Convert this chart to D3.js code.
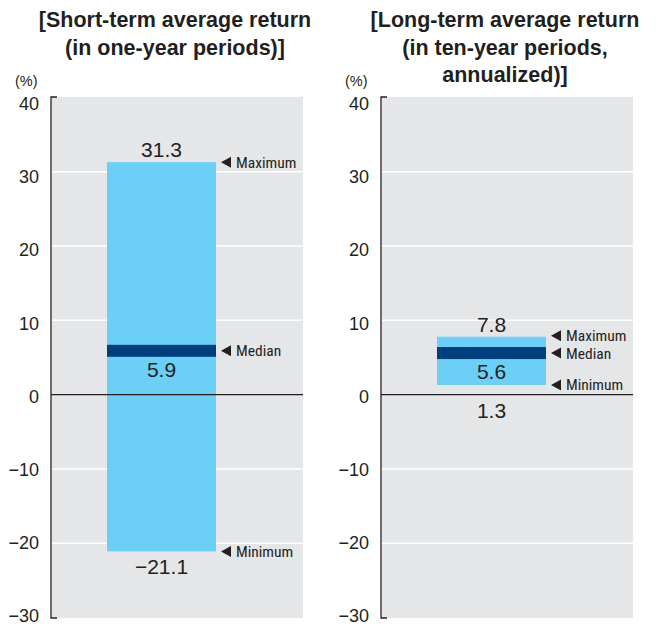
<!DOCTYPE html>
<html><head><meta charset="utf-8">
<script src="https://cdn.jsdelivr.net/npm/d3@7"></script>
<style>
body{margin:0;background:#fff;}
svg{display:block;}
</style></head>
<body>
<svg id="chart" width="658" height="624"></svg>
<script>
const panels = ["short", "long"];
const titles = [
  ["[Short-term average return", "(in one-year periods)]"],
  ["[Long-term average return", "(in ten-year periods,", "annualized)]"]
];
const maxValues = [31.3, 7.8];
const medianValues = [5.9, 5.6];
const minValues = [-21.1, 1.3];
const tickValues = [40, 30, 20, 10, 0, -10, -20, -30];
const annotationLabels = ["Maximum", "Median", "Minimum"];

const svg = d3.select("#chart");
const fontMain = "Helvetica, Arial, 'Liberation Sans', sans-serif";
const fontNarrow = "'Liberation Sans Narrow', 'Arial Narrow', 'Roboto Condensed', Arial, sans-serif";

const y = d3.scaleLinear().domain([-30, 40]).range([617.5, 97.5]);
// tick labels in the reference sit on a slightly tighter spacing than the gridlines
const yLabel = d3.scaleLinear().domain([-30, 40]).range([615.7, 104]);

const layout = [
  {axisX: 51, plotRight: 303, barX0: 107, barX1: 216, titleX: 175, titleY: 27},
  {axisX: 381, plotRight: 633, barX0: 437, barX1: 546, titleX: 505, titleY: 27}
];

function fmt(v){ return (v < 0 ? "\u2212" : "") + Math.abs(v).toFixed(Number.isInteger(v) ? 0 : 1); }

panels.forEach((p, i) => {
  const L = layout[i];
  const g = svg.append("g");

  // title
  const t = g.append("text").attr("text-anchor", "middle")
    .attr("font-family", fontMain).attr("font-weight", "bold").attr("font-size", 21.5)
    .attr("fill", "#231f20");
  titles[i].forEach((line, k) => {
    t.append("tspan").attr("x", L.titleX).attr("y", L.titleY + k * 27.5).text(line);
  });

  // background
  g.append("rect").attr("x", L.axisX + 1).attr("y", y(40) - 0.5)
    .attr("width", L.plotRight - L.axisX - 1).attr("height", y(-30) - y(40) + 1)
    .attr("fill", "#e5e6e8");

  // gridlines
  g.selectAll(".grid").data(tickValues.filter(v => v !== 0 && v !== 40 && v !== -30))
    .enter().append("line")
    .attr("x1", L.axisX + 1).attr("x2", L.plotRight)
    .attr("y1", d => y(d)).attr("y2", d => y(d))
    .attr("stroke", "#fff").attr("stroke-width", 1.5);

  // bar
  g.append("rect").attr("x", L.barX0).attr("width", L.barX1 - L.barX0)
    .attr("y", y(maxValues[i])).attr("height", y(minValues[i]) - y(maxValues[i]))
    .attr("fill", "#6bcff6");
  // median band
  g.append("rect").attr("x", L.barX0).attr("width", L.barX1 - L.barX0)
    .attr("y", y(medianValues[i]) - 6).attr("height", 12)
    .attr("fill", "#003f7e");

  // zero line
  g.append("line").attr("x1", L.axisX).attr("x2", L.plotRight)
    .attr("y1", y(0)).attr("y2", y(0)).attr("stroke", "#231f20").attr("stroke-width", 1.2);

  // axis labels
  const axis = d3.axisLeft(yLabel).tickValues(tickValues).tickSize(0).tickPadding(12)
    .tickFormat(fmt);
  const ag = g.append("g").attr("transform", `translate(${L.axisX},0)`).call(axis);
  ag.select(".domain").remove();
  ag.selectAll("text").attr("font-family", fontMain).attr("font-size", 18).attr("fill", "#231f20");
  // axis line with end ticks
  g.append("path")
    .attr("d", `M${L.axisX + 6},${y(40) - 0.5}H${L.axisX}V${y(-30) + 0.5}H${L.axisX + 6}`)
    .attr("fill", "none").attr("stroke", "#231f20").attr("stroke-width", 1.3);

  // (%)
  g.append("text").attr("x", L.axisX - 36).attr("y", 86)
    .attr("font-family", fontMain).attr("font-size", 14.5).attr("fill", "#231f20").text("(%)");

  // value labels
  const cx = (L.barX0 + L.barX1) / 2;
  const vl = g.append("g").attr("font-family", fontMain).attr("font-size", 21)
    .attr("fill", "#231f20").attr("text-anchor", "middle");
  vl.append("text").attr("x", cx).attr("y", y(maxValues[i]) - 5).text(fmt(maxValues[i]));
  vl.append("text").attr("x", cx).attr("y", y(medianValues[i]) + 26).text(fmt(medianValues[i]));
  vl.append("text").attr("x", cx).attr("y", (i === 0 ? y(minValues[i]) : y(0)) + 23).text(fmt(minValues[i]));

  // annotations
  const annY = [y(maxValues[i]) - (i === 1 ? 1 : 0), y(medianValues[i]), y(minValues[i])];
  const ag2 = g.append("g");
  annotationLabels.forEach((lab, k) => {
    const ay = annY[k];
    const ax = L.barX1 + 5;
    ag2.append("path").attr("d", `M${ax},${ay}L${ax + 10},${ay - 5.5}L${ax + 10},${ay + 5.5}Z`)
      .attr("fill", "#231f20");
    ag2.append("text").attr("x", ax + 15).attr("y", ay + 5.5)
      .attr("font-family", fontNarrow).attr("font-size", 15.5).attr("fill", "#231f20").text(lab);
  });
});
</script>
</body></html>
